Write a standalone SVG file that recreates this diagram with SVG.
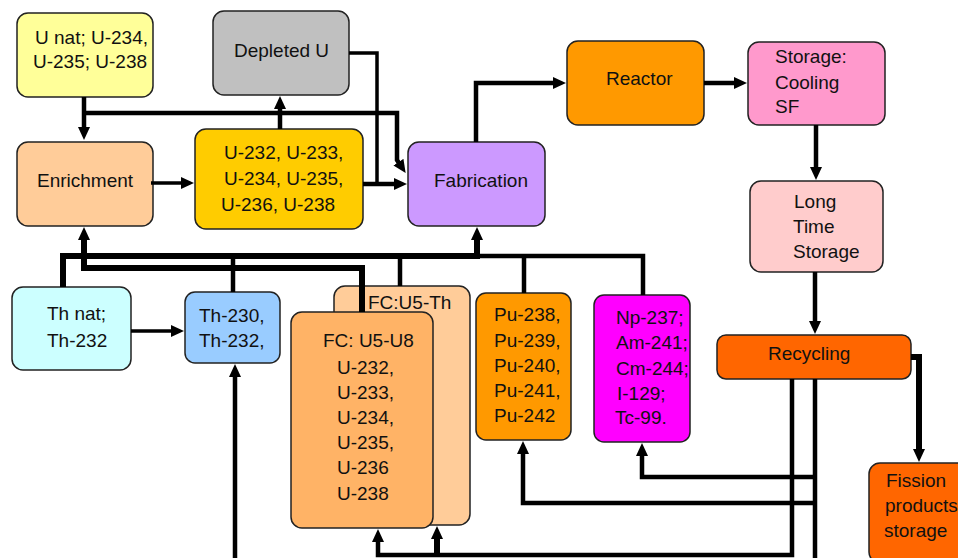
<svg xmlns="http://www.w3.org/2000/svg" width="958" height="558" viewBox="0 0 958 558">
<style>
.box{stroke:#222;stroke-width:1.5}
text{font-family:"Liberation Sans",Arial,sans-serif;font-size:19px;fill:#111}
.c{fill:none;stroke:#000;stroke-linejoin:miter}
.w3{stroke-width:3.5}
.w4{stroke-width:4.5}
.w6{stroke-width:6}
</style>
<defs>
<marker id="ah" viewBox="0 0 13 12" refX="1" refY="6" markerWidth="13" markerHeight="12" markerUnits="userSpaceOnUse" orient="auto">
<path d="M0,0 L13,6 L0,12 z" fill="#000"/>
</marker>
</defs>
<rect width="958" height="558" fill="#fff"/>

<g id="fc-u5-th"><rect class="box" x="334" y="286" width="136" height="239" rx="11" fill="#FFCC99"/><text x="368" y="309">FC:U5-Th</text></g>

<g id="u-nat"><rect class="box" x="17" y="13" width="136" height="84" rx="11" fill="#FFFF99"/><text x="35" y="44">U nat; U-234,</text><text x="33" y="68">U-235; U-238</text></g>
<g id="depleted-u"><rect class="box" x="213" y="11" width="136" height="84" rx="11" fill="#C0C0C0"/><text x="234" y="57">Depleted U</text></g>
<g id="enrichment"><rect class="box" x="17" y="142" width="136" height="84" rx="11" fill="#FFCC99"/><text x="37" y="187">Enrichment</text></g>
<g id="u-mix"><rect class="box" x="195" y="129" width="168" height="100" rx="11" fill="#FFCC00"/><text x="224" y="159">U-232, U-233,</text><text x="224" y="185">U-234, U-235,</text><text x="221" y="211">U-236, U-238</text></g>
<g id="fabrication"><rect class="box" x="408" y="142" width="137" height="84" rx="11" fill="#CC99FF"/><text x="434" y="187">Fabrication</text></g>
<g id="reactor"><rect class="box" x="567" y="41" width="137" height="84" rx="11" fill="#FF9900"/><text x="606" y="85">Reactor</text></g>
<g id="storage-cooling"><rect class="box" x="748" y="42" width="137" height="83" rx="11" fill="#FF99CC"/><text x="775" y="63">Storage:</text><text x="775" y="89">Cooling</text><text x="775" y="113">SF</text></g>
<g id="long-time-storage"><rect class="box" x="750" y="181" width="133" height="91" rx="11" fill="#FFCCCC"/><text x="794" y="208">Long</text><text x="793" y="233">Time</text><text x="793" y="258">Storage</text></g>
<g id="th-nat"><rect class="box" x="12" y="287" width="119" height="83" rx="11" fill="#CCFFFF"/><text x="47" y="320">Th nat;</text><text x="47" y="347">Th-232</text></g>
<g id="th-230"><rect class="box" x="185" y="292" width="95" height="71" rx="10" fill="#99CCFF"/><text x="199" y="322">Th-230,</text><text x="199" y="347">Th-232,</text></g>
<g id="fc-u5-u8"><rect class="box" x="291" y="312" width="142" height="216" rx="11" fill="#FFB366"/><text x="323" y="347">FC: U5-U8</text><text x="337" y="374">U-232,</text><text x="337" y="399">U-233,</text><text x="337" y="424">U-234,</text><text x="337" y="449">U-235,</text><text x="337" y="474">U-236</text><text x="337" y="500">U-238</text></g>
<g id="pu"><rect class="box" x="476" y="293" width="95" height="147" rx="10" fill="#FF9900"/><text x="494" y="321">Pu-238,</text><text x="494" y="347">Pu-239,</text><text x="494" y="372">Pu-240,</text><text x="494" y="397">Pu-241,</text><text x="494" y="422">Pu-242</text></g>
<g id="minor-actinides"><rect class="box" x="594" y="295" width="96" height="147" rx="10" fill="#FF00FF"/><text x="616" y="324">Np-237;</text><text x="616" y="349">Am-241;</text><text x="616" y="375">Cm-244;</text><text x="617" y="400">I-129;</text><text x="615" y="424">Tc-99.</text></g>
<g id="recycling"><rect class="box" x="717" y="335" width="194" height="44" rx="9" fill="#FF6600"/><text x="768" y="360">Recycling</text></g>
<g id="fission-products"><rect class="box" x="869" y="463" width="110" height="100" rx="11" fill="#FF6600"/><text x="886" y="487">Fission</text><text x="885" y="512">products</text><text x="884" y="537">storage</text></g>

<g id="connectors">
<path class="c w4" d="M84,97 V128" marker-end="url(#ah)"/>
<path class="c w4" d="M84,113 H397 V160 L399,163" marker-end="url(#ah)"/>
<path class="c w3" d="M151,183 H182" marker-end="url(#ah)"/>
<path class="c w4" d="M280,129 V108" marker-end="url(#ah)"/>
<path class="c w3" d="M349,53 H377 V184"/>
<path class="c w4" d="M363,184 H395" marker-end="url(#ah)"/>
<path class="c w4" d="M476,142 V83 H554" marker-end="url(#ah)"/>
<path class="c w4" d="M704,83 H735" marker-end="url(#ah)"/>
<path class="c w4" d="M816,125 V168" marker-end="url(#ah)"/>
<path class="c w4" d="M815,272 V322" marker-end="url(#ah)"/>
<path class="c w6" d="M911,357 H919 V450" marker-end="url(#ah)"/>
<path class="c w4" d="M815,379 V560"/>
<path class="c w4" d="M815,477 H642 V455" marker-end="url(#ah)"/>
<path class="c w4" d="M815,503 H523 V453" marker-end="url(#ah)"/>
<path class="c w4" d="M792,379 V555 H378 V541" marker-end="url(#ah)"/>
<path class="c w6" d="M437,555 V538" marker-end="url(#ah)"/>
<path class="c w4" d="M235,560 V376" marker-end="url(#ah)"/>
<path class="c w3" d="M131,331 H172" marker-end="url(#ah)"/>
<path class="c w6" d="M362,312 V268 H84 V239" marker-end="url(#ah)"/>
<path class="c w6" d="M63,287 V256 H477"/>
<path class="c w4" d="M477,256 H643 V295"/>
<path class="c w6" d="M477,259 V239" marker-end="url(#ah)"/>
<path class="c w4" d="M233,292 V256"/>
<path class="c w4" d="M400,256 V286"/>
<path class="c w4" d="M524,256 V293"/>
</g>
</svg>
